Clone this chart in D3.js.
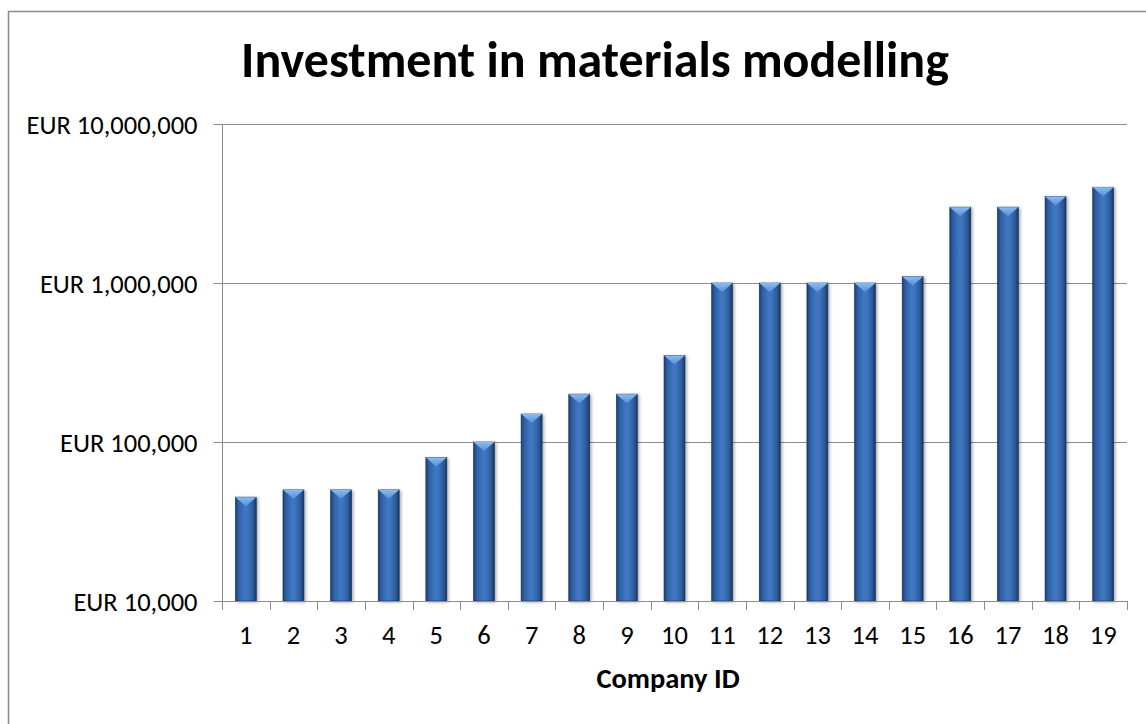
<!DOCTYPE html>
<html>
<head>
<meta charset="utf-8">
<script src="https://cdn.jsdelivr.net/npm/d3@7"></script>
<style>
  html, body { margin: 0; padding: 0; background: #fff; }
  svg { display: block; }
  text { font-family: Carlito, Lato, "Open Sans", sans-serif; fill: #000; }
</style>
</head>
<body>
<svg id="chart" width="1146" height="724"></svg>
<script>
const chartTitle = "Investment in materials modelling";
const xAxisTitle = "Company ID";
const companies = ["1","2","3","4","5","6","7","8","9","10","11","12","13","14","15","16","17","18","19"];
const investment = [45000, 50000, 50000, 50000, 80000, 100000, 150000, 200000, 200000, 350000,
                    1000000, 1000000, 1000000, 1000000, 1100000, 3000000, 3000000, 3500000, 4000000];
const yTicks = [10000, 100000, 1000000, 10000000];
const yTickLabels = ["EUR 10,000", "EUR 100,000", "EUR 1,000,000", "EUR 10,000,000"];

(function () {
const svg = d3.select("#chart");
const pLeft = 222, pRight = 1127, pTop = 124, pBottom = 601;

const defs = svg.append("defs");
const g1 = defs.append("linearGradient").attr("id", "barGrad").attr("x1", "0").attr("x2", "1").attr("y1", "0").attr("y2", "0");
[[0, "#1d3f70"], [0.15, "#2f5fa3"], [0.45, "#3f78c4"], [0.6, "#3d74bd"], [0.85, "#2c5999"], [1, "#163560"]]
  .forEach(([o, c]) => g1.append("stop").attr("offset", o).attr("stop-color", c));
const g2 = defs.append("linearGradient").attr("id", "capGrad").attr("x1", "0").attr("x2", "0").attr("y1", "0").attr("y2", "1");
[[0, "#8cbcf0"], [1, "#5590d8"]].forEach(([o, c]) => g2.append("stop").attr("offset", o).attr("stop-color", c));
const flt = defs.append("filter").attr("id", "shadow").attr("x", "-30%").attr("y", "-10%").attr("width", "160%").attr("height", "120%");
flt.append("feDropShadow").attr("dx", 1.5).attr("dy", 1).attr("stdDeviation", 1.5).attr("flood-color", "#000").attr("flood-opacity", 0.35);

// outer frame
svg.append("rect").attr("x", 8.5).attr("y", 11.5).attr("width", 1160).attr("height", 740)
  .attr("fill", "none").attr("stroke", "#8a8a8a").attr("stroke-width", 1.5);

const x = d3.scaleBand().domain(companies).range([pLeft, pRight]).paddingInner(0.56).paddingOuter(0.28);
const y = d3.scaleLog().domain([10000, 10000000]).range([pBottom, pTop]);

// gridlines
svg.append("g").selectAll("line").data(yTicks.slice(1)).join("line")
  .attr("x1", pLeft).attr("x2", pRight)
  .attr("y1", d => Math.round(y(d)) + 0.5).attr("y2", d => Math.round(y(d)) + 0.5)
  .attr("stroke", "#8c8c8c").attr("stroke-width", 1);

// y axis
const yAxis = svg.append("g").attr("transform", `translate(${pLeft + 0.5},0)`)
  .call(d3.axisLeft(y).tickValues(yTicks).tickSize(9).tickPadding(16)
    .tickFormat((d, i) => yTickLabels[i]));
yAxis.select(".domain").attr("stroke", "#8c8c8c").attr("d", `M0,${pTop}V${pBottom}`);
yAxis.selectAll(".tick line").attr("stroke", "#8c8c8c");
yAxis.selectAll(".tick text").style("font-size", "26.5px").attr("dy", "0.35em");

// bars
const bars = svg.append("g").selectAll("g").data(companies).join("g");
bars.append("rect")
  .attr("x", d => x(d)).attr("width", x.bandwidth())
  .attr("y", (d, i) => y(investment[i])).attr("height", (d, i) => pBottom - y(investment[i]))
  .attr("fill", "url(#barGrad)").attr("stroke", "#1a3560").attr("stroke-width", 0.6)
  .attr("filter", "url(#shadow)");
bars.append("path")
  .attr("d", (d, i) => {
    const x0 = x(d), w = x.bandwidth(), yt = y(investment[i]);
    return `M${x0},${yt}L${x0 + w},${yt}L${x0 + w / 2},${yt + 9}Z`;
  })
  .attr("fill", "url(#capGrad)");

// x axis
const xAxisG = svg.append("g");
xAxisG.append("line").attr("x1", pLeft).attr("x2", pRight).attr("y1", pBottom + 0.5).attr("y2", pBottom + 0.5)
  .attr("stroke", "#8c8c8c");
xAxisG.selectAll("line.tk").data(d3.range(companies.length + 1)).join("line").attr("class", "tk")
  .attr("x1", i => Math.round(pLeft + i * x.step()) + 0.5).attr("x2", i => Math.round(pLeft + i * x.step()) + 0.5)
  .attr("y1", pBottom).attr("y2", pBottom + 9).attr("stroke", "#8c8c8c");
const xLab = svg.append("g").attr("transform", `translate(0,${pBottom})`)
  .call(d3.axisBottom(x).tickSize(0).tickPadding(0));
xLab.select(".domain").remove();
xLab.selectAll(".tick text").style("font-size", "26.5px").attr("dy", null).attr("y", 43);

// titles
svg.append("text").attr("x", 595).attr("y", 77).attr("text-anchor", "middle")
  .style("font-size", "50px").style("font-weight", "bold").text(chartTitle);
svg.append("text").attr("x", 668).attr("y", 688).attr("text-anchor", "middle")
  .style("font-size", "28.5px").style("font-weight", "bold").text(xAxisTitle);
})();
</script>
</body>
</html>
